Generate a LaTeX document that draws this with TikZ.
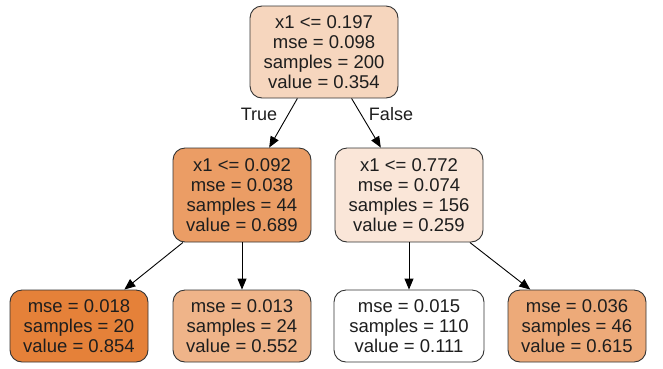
\documentclass[tikz,border=0pt]{standalone}
\usepackage{fontspec}
\setmainfont{Liberation Sans}
\usetikzlibrary{arrows.meta}
\definecolor{c0}{RGB}{246,214,190}
\definecolor{c1}{RGB}{235,157,101}
\definecolor{c2}{RGB}{250,230,216}
\definecolor{c3}{RGB}{229,129,57}
\definecolor{c4}{RGB}{239,180,137}
\definecolor{c5}{RGB}{255,255,255}
\definecolor{c6}{RGB}{237,170,121}
\definecolor{bord}{RGB}{51,51,51}
\definecolor{txt}{RGB}{30,30,30}
\tikzset{
  tnode/.style={draw=bord, line width=0.9pt, rounded corners=12pt, align=center,
    inner sep=0pt, text=txt, font=\fontsize{18.5}{20}\selectfont},
  edge/.style={draw=black, line width=0.9pt, -{Triangle[length=11pt,width=9pt]}},
  elabel/.style={text=txt, font=\fontsize{18}{20}\selectfont}
}
\begin{document}
\begin{tikzpicture}[x=1pt,y=-1pt]
\useasboundingbox (0,0) rectangle (663,368);
\node[tnode, fill=c0, minimum width=148pt, minimum height=92pt] (root) at (324,52)
  {x1 <= 0.197\\mse = 0.098\\samples = 200\\value = 0.354};
\node[tnode, fill=c1, minimum width=138pt, minimum height=94pt] (l) at (242,195)
  {x1 <= 0.092\\mse = 0.038\\samples = 44\\value = 0.689};
\node[tnode, fill=c2, minimum width=148pt, minimum height=94pt] (r) at (409,195)
  {x1 <= 0.772\\mse = 0.074\\samples = 156\\value = 0.259};
\node[tnode, fill=c3, minimum width=138pt, minimum height=72pt] (ll) at (79,326)
  {mse = 0.018\\samples = 20\\value = 0.854};
\node[tnode, fill=c4, minimum width=138pt, minimum height=72pt] (lr) at (242,326)
  {mse = 0.013\\samples = 24\\value = 0.552};
\node[tnode, fill=c5, minimum width=150pt, minimum height=72pt] (rl) at (409,326)
  {mse = 0.015\\samples = 110\\value = 0.111};
\node[tnode, fill=c6, minimum width=138pt, minimum height=72pt] (rr) at (577,326)
  {mse = 0.036\\samples = 46\\value = 0.615};
\draw[edge] (root) -- (l);
\draw[edge] (root) -- (r);
\draw[edge] (l) -- (ll);
\draw[edge] (l) -- (lr);
\draw[edge] (r) -- (rl);
\draw[edge] (r) -- (rr);
\node[elabel] (tl) at (259,114) {True};
\node[elabel] (fl) at (391,114) {False};
\end{tikzpicture}
\end{document}
